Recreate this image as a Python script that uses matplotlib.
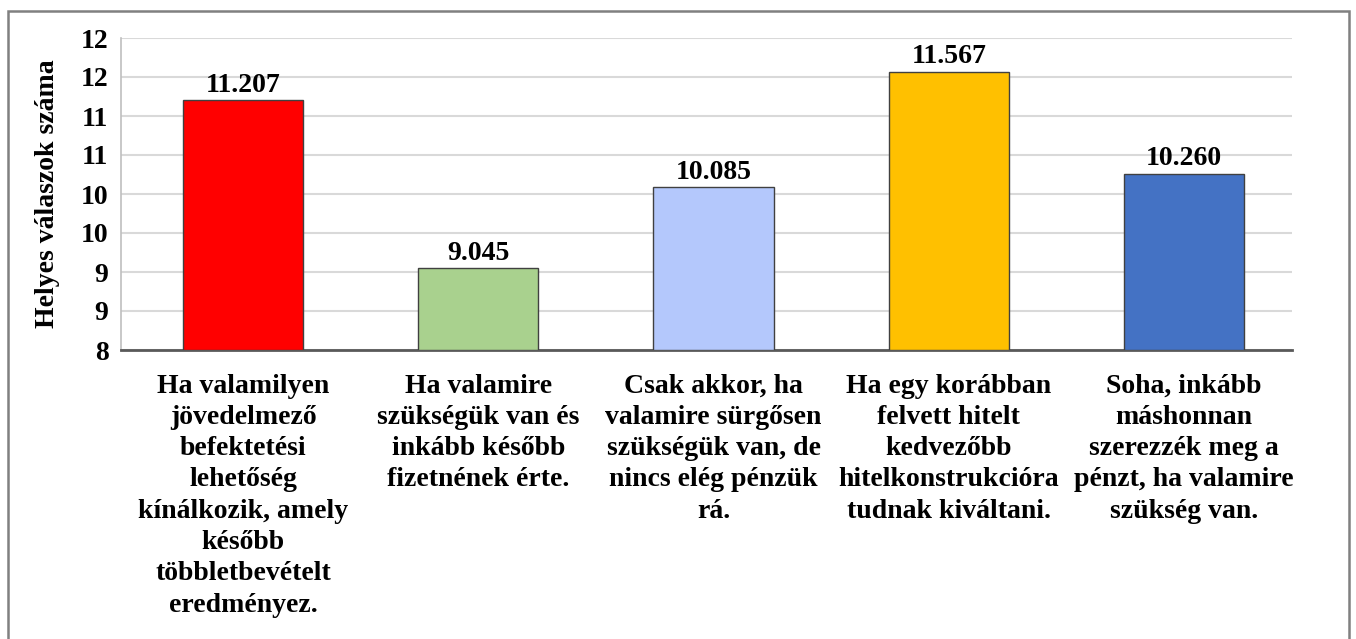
import matplotlib
matplotlib.use("Agg")
import matplotlib.pyplot as plt
from matplotlib.patches import Rectangle
import numpy as np

categories = [
    "Ha valamilyen\njövedelmező\nbefektetési\nlehetőség\nkínálkozik, amely\nkésőbb\ntöbbletbevételt\neredményez.",
    "Ha valamire\nszükségük van és\ninkább később\nfizetnének érte.",
    "Csak akkor, ha\nvalamire sürgősen\nszükségük van, de\nnincs elég pénzük\nrá.",
    "Ha egy korábban\nfelvett hitelt\nkedvezőbb\nhitelkonstrukcióra\ntudnak kiváltani.",
    "Soha, inkább\nmáshonnan\nszerezzék meg a\npénzt, ha valamire\nszükség van.",
]
values = [11.207, 9.045, 10.085, 11.567, 10.260]
value_labels = ["11.207", "9.045", "10.085", "11.567", "10.260"]
bar_colors = ["#FF0000", "#A9D18E", "#B4C8FC", "#FFC000", "#4472C4"]
y_ticks = [8.0, 8.5, 9.0, 9.5, 10.0, 10.5, 11.0, 11.5, 12.0]
y_tick_labels = ["8", "9", "9", "10", "10", "11", "11", "12", "12"]
y_label = "Helyes válaszok száma"

plt.rcParams["font.family"] = ["Liberation Serif", "DejaVu Serif"]
plt.rcParams["font.weight"] = "bold"

W, H = 1356, 639
fig = plt.figure(figsize=(W / 100, H / 100), dpi=100)
fig.patch.set_facecolor("white")

# outer frame
fig.patches.append(Rectangle((8 / W, -0.02), (1349 - 8) / W, 1 - 11 / H + 0.02,
                             transform=fig.transFigure, fill=False,
                             edgecolor="#808080", linewidth=1.8, zorder=0))

ax = fig.add_axes([121 / W, 1 - 350 / H, (1292 - 121) / W, (350 - 38) / H])
x = np.arange(len(categories))
ax.bar(x, [v - 8 for v in values], bottom=8, width=0.511, color=bar_colors,
       edgecolor="#404040", linewidth=1.0, zorder=3)
for xi, v, lab in zip(x, values, value_labels):
    ax.text(xi, v + 0.03, lab, ha="center", va="bottom", fontsize=20,
            fontweight="bold", color="#000000", zorder=4)

ax.set_xlim(-0.52, 4.46)
ax.set_ylim(8, 12)
ax.set_yticks(y_ticks)
ax.set_yticklabels(y_tick_labels, fontsize=20, fontweight="bold")
ax.set_xticks(x)
ax.set_xticklabels(categories, fontsize=20, fontweight="bold", linespacing=1.33,
                   va="top", ha="center")
ax.tick_params(axis="both", length=0)
ax.tick_params(axis="y", pad=9)
ax.tick_params(axis="x", pad=17)
ax.yaxis.grid(True, color="#D9D9D9", linewidth=1.5, zorder=0)
ax.set_axisbelow(True)
for s in ["top", "right"]:
    ax.spines[s].set_visible(False)
ax.spines["left"].set_color("#BFBFBF")
ax.spines["left"].set_linewidth(1.2)
ax.spines["bottom"].set_color("#595959")
ax.spines["bottom"].set_linewidth(2.0)
ax.set_ylabel(y_label, fontsize=20, fontweight="bold")
ax.yaxis.set_label_coords(-(121 - 60) / (1292 - 121), 0.5)

fig.savefig("out.png", dpi=100)
